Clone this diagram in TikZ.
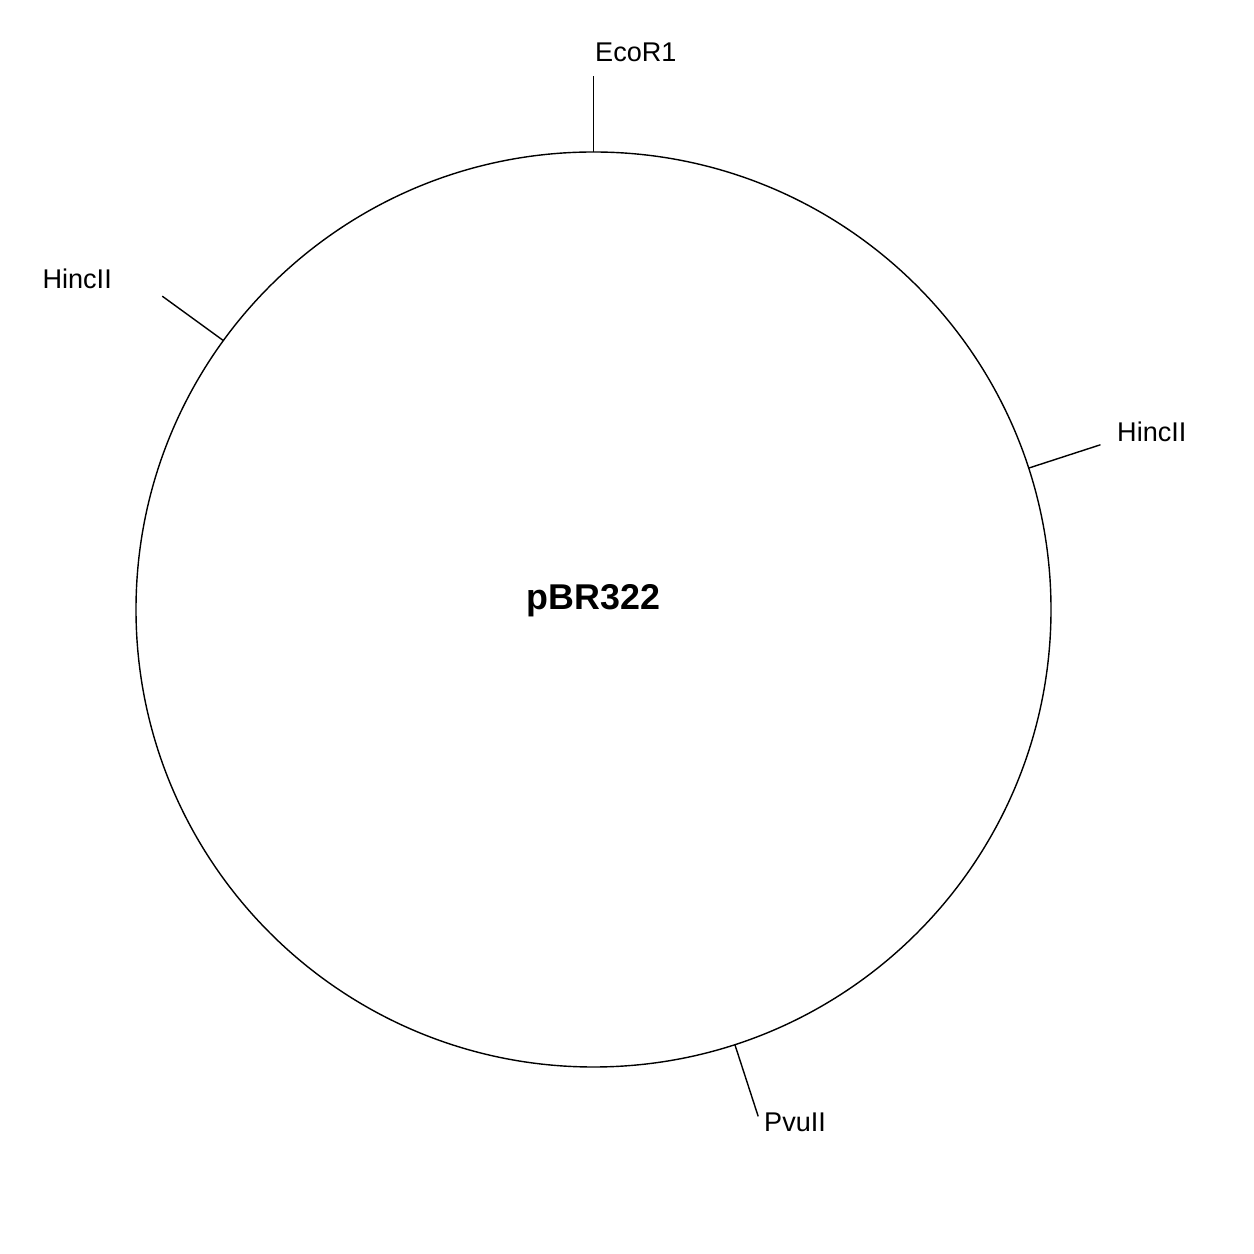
\documentclass[tikz,border=0pt]{standalone}
\usepackage{fontspec}
\setmainfont{Liberation Sans}
\begin{document}
\begin{tikzpicture}[line width=0.4pt,inner sep=0pt]
        \useasboundingbox (-5.935,-6.445) rectangle (6.605,6.095);

        \node[draw, circle, minimum size=9.15cm] (plasmid) at (0,0) {};
        \node (name) at (0,0.09) {\fontsize{10.2}{12}\selectfont\bfseries pBR322};

        % restriction sites
        \foreach \a/\s in {90/ecor, 144/hincl, 18/hincr, -72/pvu} {
                \coordinate (\s-in) at (\a:4.575);
                \coordinate (\s-out) at (\a:5.33);
                \draw (\s-in) -- (\s-out);
        }

        \node[anchor=west] (ecor) at (0.01,5.57) {\fontsize{7.7}{9}\selectfont EcoR1};
        \node[anchor=east] (hincl) at (-4.81,3.31) {\fontsize{7.7}{9}\selectfont HincII};
        \node[anchor=west] (hincr) at (5.23,1.78) {\fontsize{7.7}{9}\selectfont HincII};
        \node[anchor=west] (pvu) at (1.70,-5.13) {\fontsize{7.7}{9}\selectfont PvuII};

\end{tikzpicture}
\end{document}
